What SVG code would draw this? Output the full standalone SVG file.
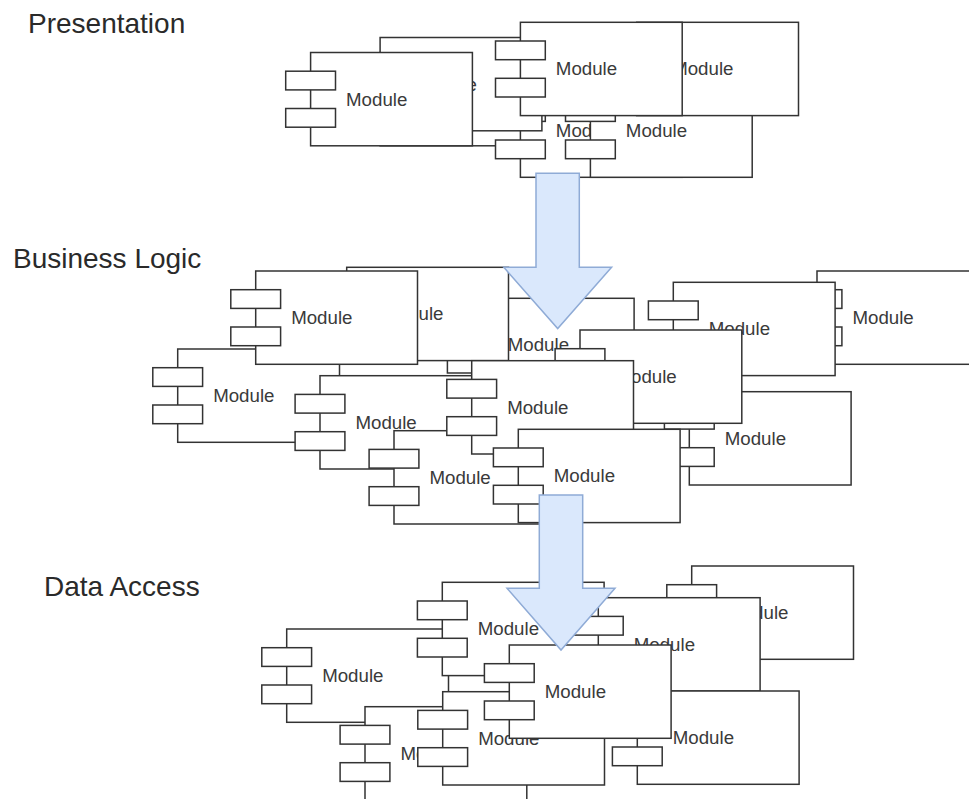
<svg xmlns="http://www.w3.org/2000/svg" width="969" height="799" viewBox="0 0 969 799">
  <style>
    .body, .jetty { fill: #fff; stroke: #333; stroke-width: 1.5; }
    .lbl { font-family: "Liberation Sans", Arial, sans-serif; font-size: 18.7px; fill: #3a3a3a; text-anchor: middle; }
    .title { font-family: "Liberation Sans", Arial, sans-serif; font-size: 28px; fill: #2a2a2a; }
    .flow { fill: #dae8fc; stroke: #8fabd6; stroke-width: 1.5; }
  </style>
  <defs>
    <!-- UML module: body with two jetties straddling its left edge -->
    <g id="component">
      <rect class="body" x="24.9" y="0" width="161.8" height="93.3"/>
      <rect class="jetty" x="0" y="18.7" width="49.8" height="18.7"/>
      <rect class="jetty" x="0" y="56" width="49.8" height="18.7"/>
    </g>
  </defs>

  <rect width="969" height="799" fill="#fff"/>

  <!-- layer titles -->
  <text class="title" x="28" y="33.3">Presentation</text>
  <text class="title" x="13" y="268.3">Business Logic</text>
  <text class="title" x="44" y="596">Data Access</text>

  <!-- presentation layer (its rearmost module's label is fully covered) -->
  <g id="pres-h" transform="translate(355.2,52.5)"><use href="#component"/></g>
  <g id="pres-2a" transform="translate(495.5,84)"><use href="#component"/><text class="lbl" x="91" y="53.2">Module</text></g>
  <g id="pres-1" transform="translate(355.2,37.5)"><use href="#component"/><text class="lbl" x="91" y="53.2">Module</text></g>
  <g id="pres-0" transform="translate(285.7,52.5)"><use href="#component"/><text class="lbl" x="91" y="53.2">Module</text></g>
  <g id="pres-2b" transform="translate(565.5,84)"><use href="#component"/><text class="lbl" x="91" y="53.2">Module</text></g>
  <g id="pres-4" transform="translate(611.8,22.3)"><use href="#component"/><text class="lbl" x="91" y="53.2">Module</text></g>
  <g id="pres-3" transform="translate(495.5,22.3)"><use href="#component"/><text class="lbl" x="91" y="53.2">Module</text></g>

  <!-- business logic layer -->
  <g id="biz-10" transform="translate(792.1,271)"><use href="#component"/><text class="lbl" x="91" y="53.2">Module</text></g>
  <g id="biz-9" transform="translate(648.4,282.3)"><use href="#component"/><text class="lbl" x="91" y="53.2">Module</text></g>
  <g id="biz-8" transform="translate(664.4,391.7)"><use href="#component"/><text class="lbl" x="91" y="53.2">Module</text></g>
  <g id="biz-1b" transform="translate(447.4,298.3)"><use href="#component"/><text class="lbl" x="91" y="53.2">Module</text></g>
  <g id="biz-7" transform="translate(555.1,330)"><use href="#component"/><text class="lbl" x="91" y="53.2">Module</text></g>
  <g id="biz-1" transform="translate(321.8,267.3)"><use href="#component"/><text class="lbl" x="91" y="53.2">Module</text></g>
  <g id="biz-2" transform="translate(152.8,349)"><use href="#component"/><text class="lbl" x="91" y="53.2">Module</text></g>
  <g id="biz-0" transform="translate(230.8,271)"><use href="#component"/><text class="lbl" x="91" y="53.2">Module</text></g>
  <g id="biz-3" transform="translate(295.1,375.7)"><use href="#component"/><text class="lbl" x="91" y="53.2">Module</text></g>
  <g id="biz-4" transform="translate(369.1,430.7)"><use href="#component"/><text class="lbl" x="91" y="53.2">Module</text></g>
  <g id="biz-5" transform="translate(446.8,360.7)"><use href="#component"/><text class="lbl" x="91" y="53.2">Module</text></g>
  <g id="biz-6" transform="translate(493.4,429.3)"><use href="#component"/><text class="lbl" x="91" y="53.2">Module</text></g>

  <!-- data access layer -->
  <g id="data-3" transform="translate(666.8,566)"><use href="#component"/><text class="lbl" x="91" y="53.2">Module</text></g>
  <g id="data-0" transform="translate(261.8,629)"><use href="#component"/><text class="lbl" x="91" y="53.2">Module</text></g>
  <g id="data-1" transform="translate(417.4,582.3)"><use href="#component"/><text class="lbl" x="91" y="53.2">Module</text></g>
  <g id="data-2" transform="translate(573.4,597.7)"><use href="#component"/><text class="lbl" x="91" y="53.2">Module</text></g>
  <g id="data-7" transform="translate(340.1,706.7)"><use href="#component"/><text class="lbl" x="91" y="53.2">Module</text></g>
  <g id="data-6" transform="translate(417.8,691.7)"><use href="#component"/><text class="lbl" x="91" y="53.2">Module</text></g>
  <g id="data-4" transform="translate(612.4,691)"><use href="#component"/><text class="lbl" x="91" y="53.2">Module</text></g>
  <g id="data-5" transform="translate(484.4,645)"><use href="#component"/><text class="lbl" x="91" y="53.2">Module</text></g>

  <!-- flow arrows between layers -->
  <g id="connectors">
    <path class="flow" d="M536,173.3 H579.3 V267.3 H611.6 L557.7,328.5 L503.8,267.3 H536 Z"/>
    <path class="flow" d="M539.3,495 H582.7 V588.3 H615 L561,650 L507,588.3 H539.3 Z"/>
  </g>
</svg>
